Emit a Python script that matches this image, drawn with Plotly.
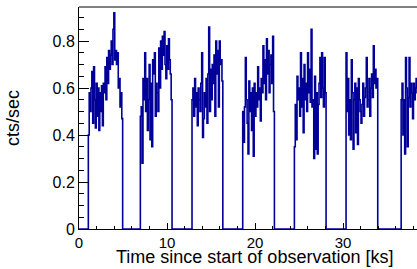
import plotly.graph_objects as go

# ---- data (count rate light curve, 0.1 ks bins) ----
bin_ks = 0.1
seg_start_ks = [1.06, 6.97, 12.84, 18.60, 24.47, 30.34, 36.60]

seg1 = [0.40, 0.58, 0.50, 0.60, 0.67, 0.45, 0.69, 0.55, 0.43, 0.62, 0.48, 0.60, 0.42,
        0.58, 0.50, 0.61, 0.44, 0.62, 0.58, 0.69, 0.55, 0.73, 0.62, 0.76, 0.68, 0.74,
        0.80, 0.70, 0.85, 0.92, 0.72, 0.76, 0.70, 0.75, 0.60, 0.64, 0.52, 0.58, 0.47]
seg2 = [0.48, 0.52, 0.28, 0.64, 0.55, 0.75, 0.50, 0.64, 0.42, 0.55, 0.70, 0.38, 0.62,
        0.35, 0.72, 0.66, 0.75, 0.48, 0.62, 0.58, 0.50, 0.77, 0.60, 0.80, 0.68, 0.82,
        0.74, 0.84, 0.70, 0.64, 0.78, 0.68, 0.81, 0.72, 0.66, 0.55]
seg3 = [0.55, 0.60, 0.48, 0.64, 0.52, 0.58, 0.44, 0.60, 0.55, 0.50, 0.62, 0.75, 0.39,
        0.47, 0.58, 0.52, 0.64, 0.45, 0.66, 0.86, 0.50, 0.68, 0.55, 0.70, 0.62, 0.74,
        0.48, 0.80, 0.66, 0.76, 0.52, 0.80, 0.70, 0.72, 0.63]
seg4 = [0.50, 0.37, 0.52, 0.73, 0.55, 0.45, 0.32, 0.63, 0.50, 0.58, 0.42, 0.60, 0.31,
        0.62, 0.48, 0.58, 0.52, 0.69, 0.55, 0.60, 0.46, 0.64, 0.58, 0.78, 0.62, 0.72,
        0.55, 0.81, 0.66, 0.76, 0.58, 0.70, 0.74, 0.62, 0.82, 0.50]
seg5 = [0.35, 0.53, 0.38, 0.65, 0.55, 0.60, 0.48, 0.75, 0.52, 0.64, 0.41, 0.70, 0.55,
        0.62, 0.50, 0.75, 0.58, 0.68, 0.54, 0.85, 0.52, 0.55, 0.30, 0.65, 0.34, 0.58,
        0.32, 0.53, 0.62, 0.73, 0.56, 0.75, 0.60, 0.52, 0.73, 0.58]
seg6 = [0.75, 0.50, 0.64, 0.40, 0.55, 0.38, 0.72, 0.58, 0.34, 0.55, 0.62, 0.41, 0.60,
        0.36, 0.64, 0.55, 0.50, 0.45, 0.53, 0.62, 0.48, 0.56, 0.60, 0.73, 0.52, 0.55,
        0.64, 0.48, 0.60, 0.66, 0.56, 0.78, 0.62, 0.68, 0.60, 0.64]
seg7 = [0.55, 0.62, 0.40, 0.55, 0.32, 0.73, 0.60, 0.35, 0.56, 0.73, 0.52, 0.62, 0.58,
        0.47, 0.62, 0.55, 0.60, 0.64, 0.58, 0.60]
segments = [seg1, seg2, seg3, seg4, seg5, seg6, seg7]

x_ticks = [0, 10, 20, 30]
y_ticks = [0, 0.2, 0.4, 0.6, 0.8]
y_tick_text = ["0", "0.2", "0.4", "0.6", "0.8"]
x_title = "Time since start of observation [ks]"
y_title = "cts/sec"

# ---- build step histogram (zero between observation intervals) ----
t, r = [0.0], [0.0]
for s, vals in zip(seg_start_ks, segments):
    for i, v in enumerate(vals):
        t.append(s + i * bin_ks)
        r.append(v)
    t.append(s + len(vals) * bin_ks)
    r.append(0.0)

fig = go.Figure(go.Scatter(x=t, y=r, mode="lines", line=dict(shape="hv", color="#000099", width=1.6),
                           showlegend=False, hoverinfo="skip"))

font = "Liberation Sans, Arial, sans-serif"
fig.update_layout(
    width=417, height=269,
    margin=dict(l=79, r=0, t=7, b=40, autoexpand=False),
    paper_bgcolor="white", plot_bgcolor="white",
    font=dict(family=font, size=16, color="black"),
    xaxis=dict(range=[0, 38.4], tickvals=x_ticks, ticks="inside", ticklen=6, tickwidth=1,
               tickcolor="black", showline=True, linecolor="black", linewidth=1,
               showgrid=False, zeroline=False, tickfont=dict(size=15), automargin=False,
               minor=dict(dtick=2, ticks="inside", ticklen=3, tickcolor="black", showgrid=False)),
    yaxis=dict(range=[0, 0.945], tickvals=y_ticks, ticktext=y_tick_text, ticks="inside", ticklen=10,
               tickwidth=1, tickcolor="black", showline=True, linecolor="black", linewidth=1,
               showgrid=False, zeroline=False, tickfont=dict(size=16), automargin=False,
               minor=dict(dtick=0.05, ticks="inside", ticklen=5, tickcolor="black", showgrid=False)),
    shapes=[dict(type="line", xref="paper", yref="paper", x0=0, x1=1, y0=1, y1=1,
                 line=dict(color="#808080", width=2))],
    annotations=[
        dict(text=x_title, xref="paper", yref="paper", x=0.52, y=0, xanchor="center",
             yanchor="middle", yshift=-28, showarrow=False, font=dict(size=18)),
        dict(text=y_title, xref="paper", yref="paper", x=0, y=0.5, xanchor="center",
             yanchor="middle", xshift=-66, textangle=-90, showarrow=False, font=dict(size=18)),
    ],
)

fig.write_html("out.html", config={"displayModeBar": False},
               post_script="document.body.style.margin='0';document.body.style.overflow='hidden';")
